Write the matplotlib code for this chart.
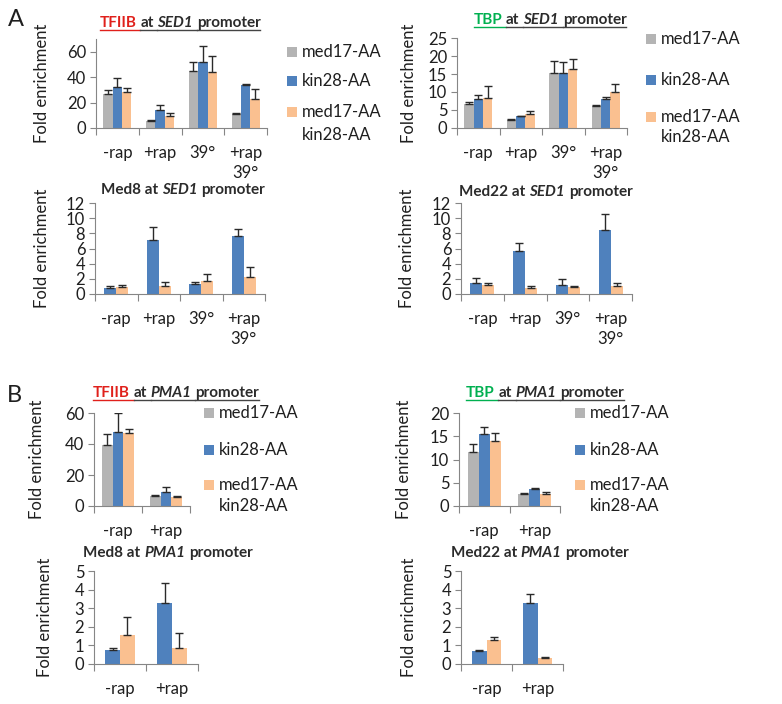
import numpy as np
import matplotlib
matplotlib.use("Agg")
import matplotlib.pyplot as plt
from matplotlib.lines import Line2D
from matplotlib.patches import Rectangle

plt.rcParams.update({
    "font.family": ["Lato", "DejaVu Sans"],
    "font.size": 11,
})

# ── Data ──────────────────────────────────────────────────────────────────
cats_sed1 = ["-rap", "+rap", "39°", "+rap\n39°"]
cats_pma1 = ["-rap", "+rap"]
series_names = ["med17-AA", "kin28-AA", "med17-AA\nkin28-AA"]

# TFIIB at SED1
tfiib_sed1_med17 = [26.5, 5.5, 45.2, 11.2]
tfiib_sed1_med17_err = [3.5, 0.5, 6.8, 0.8]
tfiib_sed1_kin28 = [32.5, 13.8, 52.0, 33.5]
tfiib_sed1_kin28_err = [7.2, 4.4, 12.7, 1.5]
tfiib_sed1_double = [28.6, 9.6, 44.4, 22.6]
tfiib_sed1_double_err = [2.8, 2.4, 12.6, 8.0]

# TBP at SED1
tbp_sed1_med17 = [6.7, 2.3, 15.4, 6.1]
tbp_sed1_med17_err = [0.5, 0.1, 3.2, 0.3]
tbp_sed1_kin28 = [8.0, 3.2, 15.4, 8.0]
tbp_sed1_kin28_err = [1.3, 0.1, 2.8, 0.7]
tbp_sed1_double = [8.3, 3.8, 16.5, 10.1]
tbp_sed1_double_err = [3.3, 0.9, 2.6, 2.0]

# Med8 at SED1
med8_sed1_kin28 = [0.84, 7.1, 1.37, 7.7]
med8_sed1_kin28_err = [0.16, 1.7, 0.25, 0.85]
med8_sed1_double = [0.93, 1.1, 1.76, 2.3]
med8_sed1_double_err = [0.22, 0.5, 0.84, 1.3]

# Med22 at SED1
med22_sed1_kin28 = [1.4, 5.7, 1.23, 8.4]
med22_sed1_kin28_err = [0.7, 1.0, 0.71, 2.2]
med22_sed1_double = [1.2, 0.84, 0.97, 1.1]
med22_sed1_double_err = [0.2, 0.21, 0.13, 0.3]

# TFIIB at PMA1
tfiib_pma1_med17 = [39.4, 6.5]
tfiib_pma1_med17_err = [7.0, 0.6]
tfiib_pma1_kin28 = [48.0, 8.9]
tfiib_pma1_kin28_err = [11.8, 3.4]
tfiib_pma1_double = [47.0, 5.6]
tfiib_pma1_double_err = [2.7, 0.7]

# TBP at PMA1
tbp_pma1_med17 = [11.65, 2.6]
tbp_pma1_med17_err = [1.75, 0.1]
tbp_pma1_kin28 = [15.5, 3.6]
tbp_pma1_kin28_err = [1.4, 0.36]
tbp_pma1_double = [13.9, 2.66]
tbp_pma1_double_err = [1.9, 0.34]

# Med8 at PMA1
med8_pma1_kin28 = [0.75, 3.3]
med8_pma1_kin28_err = [0.09, 1.04]
med8_pma1_double = [1.54, 0.88]
med8_pma1_double_err = [1.0, 0.8]

# Med22 at PMA1
med22_pma1_kin28 = [0.72, 3.3]
med22_pma1_kin28_err = [0.03, 0.46]
med22_pma1_double = [1.29, 0.32]
med22_pma1_double_err = [0.14, 0.04]

# ── Style ─────────────────────────────────────────────────────────────────
GRAY, BLUE, ORANGE = "#B4B4B4", "#4F81BD", "#FAC090"
AXIS_C = "#868686"
TEXT_C = "#1f1f1f"
TITLE_C = "#2b2b2b"
RED, GREEN = "#E0201B", "#00B050"

W, H = 782, 704
fig = plt.figure(figsize=(W / 100, H / 100), dpi=100)
renderer = fig.canvas.get_renderer()


def px_axes(x0, y0, x1, y1):
    return fig.add_axes([x0 / W, 1 - y1 / H, (x1 - x0) / W, (y1 - y0) / H])


def bar_panel(box, cats, series, ymax, yticks, label_x):
    ax = px_axes(*box)
    n = len(cats)
    x = np.arange(n)
    k = len(series)
    width = 0.22 if k == 3 else 0.28
    for i, (vals, errs, color) in enumerate(series):
        off = (i - (k - 1) / 2) * width
        ax.bar(x + off, vals, width, color=color, zorder=2)
        ax.errorbar(x + off, vals, yerr=[np.zeros(len(errs)), errs],
                    fmt="none", ecolor="#2a2a2a", elinewidth=1,
                    capsize=3, capthick=1, zorder=3)
    ax.set_xlim(-0.5, n - 0.5)
    ax.set_ylim(0, ymax)
    ax.set_yticks(yticks)
    ax.set_xticks(np.arange(n + 1) - 0.5)
    ax.set_xticklabels([])
    ax.set_xticks(x, labels=cats, minor=True)
    for lab in ax.get_xticklabels(minor=True):
        lab.set_linespacing(1.35)
    ax.tick_params(axis="x", which="major", length=5, color=AXIS_C, direction="out")
    ax.tick_params(axis="x", which="minor", length=0, pad=12, labelsize=12,
                   labelcolor=TEXT_C)
    ax.tick_params(axis="y", length=4, color=AXIS_C, labelsize=12,
                   labelcolor=TEXT_C, pad=3)
    for s in ("top", "right"):
        ax.spines[s].set_visible(False)
    for s in ("left", "bottom"):
        ax.spines[s].set_color(AXIS_C)
    ax.set_ylabel("Fold enrichment", fontsize=12, color=TEXT_C)
    ax.yaxis.set_label_coords((label_x - box[0]) / (box[2] - box[0]), 0.5)
    return ax


def text_w(s, **kw):
    t = fig.text(0, 0, s, **kw)
    w = t.get_window_extent(renderer).width
    t.remove()
    return w


def rich_title(pieces, cx, base_y, underline=False, size=11):
    kw = dict(fontsize=size, fontweight="bold")
    space = text_w("a a", **kw) - text_w("aa", **kw)
    widths = [text_w(s, fontstyle=st, **kw) for s, c, st in pieces]
    total = sum(widths) + space * (len(pieces) - 1)
    x = cx - total / 2
    for j, ((s, c, st), w) in enumerate(zip(pieces, widths)):
        fig.text(x / W, 1 - base_y / H, s, color=c, fontstyle=st,
                 va="baseline", ha="left", **kw)
        if underline:
            ext = space if j < len(pieces) - 1 else 0
            ucol = c if c != TITLE_C else "#444444"
            fig.add_artist(Line2D([x / W, (x + w + ext) / W],
                                  [1 - (base_y + 3) / H] * 2,
                                  transform=fig.transFigure, color=ucol, lw=1))
        x += w + space


def legend(x, ys, colors, labels):
    for y, c, lab in zip(ys, colors, labels):
        fig.add_artist(Rectangle((x / W, 1 - (y + 5) / H), 10 / W, 10 / H,
                                 transform=fig.transFigure, facecolor=c,
                                 edgecolor="none"))
        fig.text((x + 15) / W, 1 - y / H, lab, fontsize=12, color=TEXT_C,
                 va="center", ha="left")


leg_colors = [GRAY, BLUE, ORANGE]

# ── Panel A ───────────────────────────────────────────────────────────────
bar_panel((96, 39, 267, 128), cats_sed1,
          [(tfiib_sed1_med17, tfiib_sed1_med17_err, GRAY),
           (tfiib_sed1_kin28, tfiib_sed1_kin28_err, BLUE),
           (tfiib_sed1_double, tfiib_sed1_double_err, ORANGE)],
          70, [0, 20, 40, 60], 50)
rich_title([("TFIIB", RED, "normal"), ("at", TITLE_C, "normal"),
            ("SED1", TITLE_C, "italic"), ("promoter", TITLE_C, "normal")],
           180, 27, underline=True)
legend(287, [52, 81, 112], leg_colors, ["med17-AA", "kin28-AA", "med17-AA"])
fig.text(302 / W, 1 - 135 / H, "kin28-AA", fontsize=12, color=TEXT_C,
         va="center", ha="left")

bar_panel((457, 38, 627, 128), cats_sed1,
          [(tbp_sed1_med17, tbp_sed1_med17_err, GRAY),
           (tbp_sed1_kin28, tbp_sed1_kin28_err, BLUE),
           (tbp_sed1_double, tbp_sed1_double_err, ORANGE)],
          25, [0, 5, 10, 15, 20, 25], 417)
rich_title([("TBP", GREEN, "normal"), ("at", TITLE_C, "normal"),
            ("SED1", TITLE_C, "italic"), ("promoter", TITLE_C, "normal")],
           550, 24, underline=True)
legend(646, [39, 80, 117], leg_colors, ["med17-AA", "kin28-AA", "med17-AA"])
fig.text(661 / W, 1 - 137 / H, "kin28-AA", fontsize=12, color=TEXT_C,
         va="center", ha="left")

bar_panel((95, 203, 265, 294), cats_sed1,
          [(med8_sed1_kin28, med8_sed1_kin28_err, BLUE),
           (med8_sed1_double, med8_sed1_double_err, ORANGE)],
          12, [0, 2, 4, 6, 8, 10, 12], 50)
rich_title([("Med8 at", TITLE_C, "normal"), ("SED1", TITLE_C, "italic"),
            ("promoter", TITLE_C, "normal")], 183, 194)

bar_panel((461, 203, 632, 294), cats_sed1,
          [(med22_sed1_kin28, med22_sed1_kin28_err, BLUE),
           (med22_sed1_double, med22_sed1_double_err, ORANGE)],
          12, [0, 2, 4, 6, 8, 10, 12], 415)
rich_title([("Med22 at", TITLE_C, "normal"), ("SED1", TITLE_C, "italic"),
            ("promoter", TITLE_C, "normal")], 546, 196)

# ── Panel B ───────────────────────────────────────────────────────────────
bar_panel((94, 413, 190, 506), cats_pma1,
          [(tfiib_pma1_med17, tfiib_pma1_med17_err, GRAY),
           (tfiib_pma1_kin28, tfiib_pma1_kin28_err, BLUE),
           (tfiib_pma1_double, tfiib_pma1_double_err, ORANGE)],
          60, [0, 20, 40, 60], 45)
rich_title([("TFIIB", RED, "normal"), ("at", TITLE_C, "normal"),
            ("PMA1", TITLE_C, "italic"), ("promoter", TITLE_C, "normal")],
           176, 397, underline=True)
legend(204, [413, 450, 485], leg_colors, ["med17-AA", "kin28-AA", "med17-AA"])
fig.text(219 / W, 1 - 506 / H, "kin28-AA", fontsize=12, color=TEXT_C,
         va="center", ha="left")

bar_panel((459, 413, 560, 506), cats_pma1,
          [(tbp_pma1_med17, tbp_pma1_med17_err, GRAY),
           (tbp_pma1_kin28, tbp_pma1_kin28_err, BLUE),
           (tbp_pma1_double, tbp_pma1_double_err, ORANGE)],
          20, [0, 5, 10, 15, 20], 412)
rich_title([("TBP", GREEN, "normal"), ("at", TITLE_C, "normal"),
            ("PMA1", TITLE_C, "italic"), ("promoter", TITLE_C, "normal")],
           545, 397, underline=True)
legend(575, [413, 450, 485], leg_colors, ["med17-AA", "kin28-AA", "med17-AA"])
fig.text(590 / W, 1 - 506 / H, "kin28-AA", fontsize=12, color=TEXT_C,
         va="center", ha="left")

bar_panel((94, 571, 198, 664), cats_pma1,
          [(med8_pma1_kin28, med8_pma1_kin28_err, BLUE),
           (med8_pma1_double, med8_pma1_double_err, ORANGE)],
          5, [0, 1, 2, 3, 4, 5], 53)
rich_title([("Med8 at", TITLE_C, "normal"), ("PMA1", TITLE_C, "italic"),
            ("promoter", TITLE_C, "normal")], 168, 557)

bar_panel((461, 571, 563, 664), cats_pma1,
          [(med22_pma1_kin28, med22_pma1_kin28_err, BLUE),
           (med22_pma1_double, med22_pma1_double_err, ORANGE)],
          5, [0, 1, 2, 3, 4, 5], 417)
rich_title([("Med22 at", TITLE_C, "normal"), ("PMA1", TITLE_C, "italic"),
            ("promoter", TITLE_C, "normal")], 540, 557)

fig.text(8 / W, 1 - 20 / H, "A", fontsize=17, color=TEXT_C, va="center")
fig.text(7 / W, 1 - 395 / H, "B", fontsize=17, color=TEXT_C, va="center")

fig.savefig("out.png", dpi=100)
